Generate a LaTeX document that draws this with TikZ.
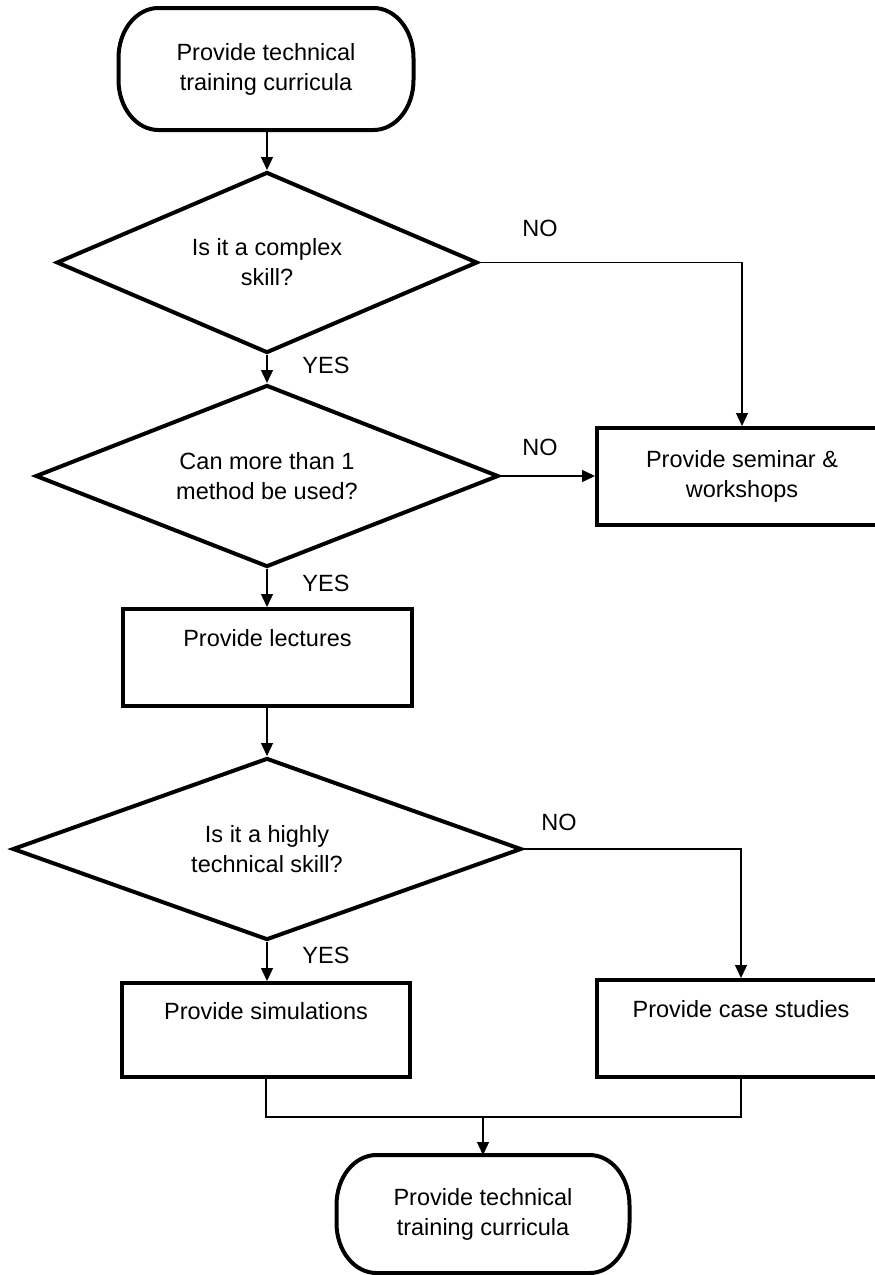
\documentclass[tikz,border=0pt]{standalone}
\usepackage{fontspec}
\setmainfont{Liberation Sans}
\usetikzlibrary{shapes.geometric,arrows.meta,calc}
\newcommand\pillpath[1]{\draw[line width=4pt]
  ($(#1.north west)+(40,0)$) -- ($(#1.north east)+(-40,0)$)
  .. controls ($(#1.north east)+(-18,0)$) and ($(#1.north east)+(0,22)$) .. ($(#1.north east)+(0,50)$)
  -- ($(#1.south east)+(0,-50)$)
  .. controls ($(#1.south east)+(0,-22)$) and ($(#1.south east)+(-18,0)$) .. ($(#1.south east)+(-40,0)$)
  -- ($(#1.south west)+(40,0)$)
  .. controls ($(#1.south west)+(18,0)$) and ($(#1.south west)+(0,-22)$) .. ($(#1.south west)+(0,-50)$)
  -- ($(#1.north west)+(0,50)$)
  .. controls ($(#1.north west)+(0,22)$) and ($(#1.north west)+(18,0)$) .. cycle;}
\begin{document}
\begin{tikzpicture}[x=1pt,y=-1pt,
  every node/.style={font=\fontsize{23.5}{30}\selectfont, align=center, inner sep=0pt},
  term/.style={rectangle, outer sep=0pt},
  proc/.style={draw, line width=4pt, rectangle},
  dec/.style={draw, line width=4pt, diamond, aspect=2.5, line join=miter},
  arr/.style={line width=1.3pt, -{Triangle[width=12pt,length=13pt]}},
  conn/.style={line width=1.3pt},
  lab/.style={font=\fontsize{23.5}{30}\selectfont}]
\useasboundingbox (0,0) rectangle (875,1275);
\clip (0,0) rectangle (875,1275);
\fill[white] (0,0) rectangle (875,1275);

\node[term, minimum width=295pt, minimum height=122pt] (t1) at (266,69) {Provide technical\\training curricula};
\pillpath{t1}
\node[dec, minimum width=421pt, minimum height=181pt] (d1) at (267,262.5) {Is it a complex\\skill?};
\node[dec, minimum width=463pt, minimum height=182pt] (d2) at (267,476) {Can more than 1\\method be used?};
\node[proc, minimum width=290pt, minimum height=97pt] (sem) at (742,476.5) {Provide seminar \&\\workshops};
\node[proc, minimum width=289pt, minimum height=97pt] (lec) at (267.5,657.5) {Provide lectures\\\strut};
\node[dec, minimum width=509pt, minimum height=182pt] (d3) at (267,849) {Is it a highly\\technical skill?};
\node[proc, minimum width=288pt, minimum height=94pt] (sim) at (266,1030) {Provide simulations\\\strut};
\node[proc, minimum width=288pt, minimum height=97pt] (cas) at (741,1028.5) {Provide case studies\\\strut};
\node[term, minimum width=293pt, minimum height=118pt] (t2) at (483,1214) {Provide technical\\training curricula};
\pillpath{t2}

\coordinate (j) at (483,1117);

\draw[arr] (t1.south) -- (t1.south -| d1.north) -- (d1.north);
\draw[arr] (d1.east) -| (sem.north);
\draw[arr] (d1.south) -- (d2.north);
\draw[arr] (d2.east) -- (d2.east -| sem.west);
\draw[arr] (d2.south) -- (d2.south |- lec.north);
\draw[arr] (lec.south -| d3.north) -- (d3.north);
\draw[arr] (d3.east) -| (cas.north);
\draw[arr] (d3.south) -- (d3.south |- sim.north);
\draw[conn] (sim.south) |- (j) -| (cas.south);
\draw[arr] (j) -- (t2.north);

\node[lab] (y1) at (326,365) {YES};
\node[lab] (y2) at (326,583) {YES};
\node[lab] (y3) at (326,955) {YES};
\node[lab] (n1) at (540,228) {NO};
\node[lab] (n2) at (540,447) {NO};
\node[lab] (n3) at (559,822) {NO};
\end{tikzpicture}
\end{document}
